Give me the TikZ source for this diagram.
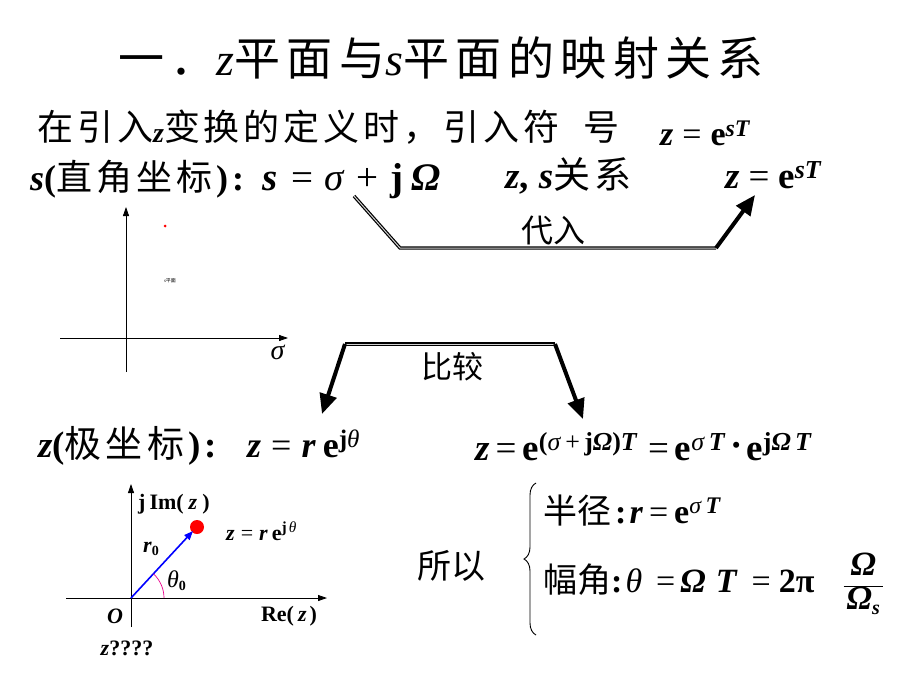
\documentclass[tikz,border=0pt]{standalone}
\usepackage{fontspec}
\setmainfont{Liberation Serif}
\newfontfamily\cjk[LetterSpace=11]{Noto Sans CJK SC}
\newfontfamily\cjkt[LetterSpace=14]{Noto Sans CJK SC}
\newfontfamily\cjkn{Noto Sans CJK SC}
\usetikzlibrary{arrows.meta,decorations.pathreplacing}
\newcommand\fs[1]{\fontsize{#1}{#1}\selectfont}
\newcommand\bi[1]{\textbf{\textit{#1}}}
\newcommand\sups[1]{\textsuperscript{#1}}
\newcommand\gap[1]{\hspace{#1pt}}
\begin{document}
\begin{tikzpicture}[x=1pt,y=-1pt,
  txt/.style={inner sep=0pt, anchor=base west},
  ctxt/.style={inner sep=0pt, anchor=center},
  dbl/.style={draw=black, line width=1.2pt, double=gray!35, double distance=1pt, line join=miter},
  bigarrow/.style={line width=4pt, -{Triangle[length=20pt,width=17pt]}},
  axis/.style={line width=0.8pt, -{Triangle[length=9pt,width=6pt]}}]
\fill[white] (0,0) rectangle (920,690);
\useasboundingbox (0,0) rectangle (920,690);

% title
\node[txt] (title) at (118,76) {\fs{46}{\cjkt 一．}\textit{z}{\cjkt 平面与}\textit{s}{\cjkt 平面的映射关系}};

% line 2
\node[txt] (intro) at (37,140) {\fs{36}{\cjk 在引入}\raisebox{-2pt}{\fs{28}\bi{z}}{\cjk 变换的定义时，引入符}\gap{24}{\cjk 号}};
\node[txt] (def) at (660,146) {\fs{34}\bi{z}\gap{9}=\gap{9}\textbf{e}\sups{\bi{sT}}};

% line 3
\node[txt] (slabel) at (30,190) {\fs{36}\bi{s}\textbf{(}{\cjk 直角坐标}\textbf{)}\gap{4}\textbf{:}};
\node[txt] (seq) at (262,190) {\fs{39}\bi{s}\gap{14}=\gap{11}\textit{σ}\gap{12}+\gap{12}\textbf{j}\gap{8}\bi{Ω}};
\node[txt] (zs) at (505,188) {\fs{37}\bi{z}\textbf{,}\gap{10}\bi{s}{\cjk 关系}};
\node[txt] (zdef) at (725,188) {\fs{37}\bi{z}\gap{9}=\gap{9}\textbf{e}\sups{\bi{sT}}};

% substitution path
\coordinate (a1) at (354,196);
\coordinate (a2) at (400,248);
\coordinate (a3) at (716,248);
\coordinate (a4) at (755,195);
\draw[dbl] (a1) -- (a2) -- (a3);
\draw[bigarrow] (a3) -- (a4);
\node[ctxt] (subst) at (553,231) {\fs{32}\cjkn 代入};

% s-plane
\coordinate (sv0) at (126,372);
\coordinate (sv1) at (126,207);
\coordinate (sh0) at (60,338);
\coordinate (sh1) at (288,338);
\draw[axis] (sv0) -- (sv1);
\draw[axis] (sh0) -- (sh1);
\node[ctxt] (sigma) at (278,352) {\fs{28}\textit{σ}};
\fill[red] (165,226) circle (1.5);
\node[ctxt] (splane) at (170,281) {\fs{5}\textit{s}{\cjkn 平面}};

% compare path
\coordinate (b1) at (345,344);
\coordinate (b2) at (555,344);
\coordinate (b3) at (322,414);
\coordinate (b4) at (583,419);
\draw[dbl] (b1) -- (b2);
\draw[bigarrow] (b1) -- (b3);
\draw[bigarrow] (b2) -- (b4);
\node[ctxt] (comp) at (452,367) {\fs{31}\cjkn 比较};

% line 4
\node[txt] (zlabel) at (38,457) {\fs{37}\bi{z}\textbf{(}{\cjk 极坐标}\textbf{)}\gap{4}\textbf{:}};
\node[txt] (zpol) at (247,457) {\fs{36}\bi{z}\gap{10}=\gap{10}\bi{r}\gap{7}\textbf{e}\sups{\textbf{j}\textit{θ}}};
\node[txt] (zexp) at (475,460) {\fs{37}\bi{z}\gap{6}=\gap{6}\textbf{e}\sups{\textbf{(}\textit{σ}\,+\,\textbf{j}\bi{Ω}\textbf{)}\bi{T}}\gap{10}=\gap{6}\textbf{e}\sups{\textit{σ}\gap{4}\bi{T}}\gap{4}\raisebox{3pt}{\textbf{·}}\gap{4}\textbf{e}\sups{\textbf{j}\bi{Ω}\,\bi{T}}};

% z-plane
\coordinate (O) at (131,598);
\coordinate (zv0) at (131,627);
\coordinate (zv1) at (131,484);
\coordinate (zh0) at (66,598);
\coordinate (zh1) at (327,598);
\draw[axis] (zv0) -- (zv1);
\draw[axis] (zh0) -- (zh1);
\fill[red] (197,527) circle (7);
\coordinate (P) at (193,531);
\draw[blue, line width=1.6pt, -{Triangle[length=9pt,width=7pt]}] (O) -- (P);
\draw[magenta, line width=0.7pt] (O) ++(33pt,0pt) arc[start angle=0, end angle=47, radius=33pt];
\node[txt] (imz) at (138,509) {\fs{22}\textbf{j}\gap{4}\textbf{Im(}\gap{5}\bi{z}\gap{5}\textbf{)}};
\node[txt] (zpt) at (226,540) {\fs{22}\bi{z}\gap{6}=\gap{6}\bi{r}\gap{4}\textbf{e}\sups{\textbf{j}\gap{2}\textit{θ}}};
\node[txt] (r0) at (143,552) {\fs{22}\bi{r}\raisebox{-3pt}{\fs{14}\textbf{0}}};
\node[txt] (th0) at (167,587) {\fs{24}\textit{θ}\raisebox{-3pt}{\fs{14}\textbf{0}}};
\node[ctxt] (Olab) at (115,616) {\fs{22}\bi{O}};
\node[ctxt] (Re) at (289,616) {\fs{22}\textbf{Re(}\gap{4}\bi{z}\gap{3}\textbf{)}};
\node[ctxt] (zq) at (127,648) {\fs{22}\bi{z}\textbf{????}};

% conclusion
\node[ctxt] (so) at (451,566) {\fs{34}\cjkn 所以};
\coordinate (br0) at (536,635);
\coordinate (br1) at (536,483);
\draw[line width=0.9pt, decorate, decoration={brace, amplitude=12pt}] (br0) -- (br1);
\node[txt] (radius) at (543,523) {\fs{34}{\cjkn 半径}\gap{4}\textbf{:}\gap{3}\bi{r}\gap{6}=\gap{6}\textbf{e}\sups{\textit{σ}\,\bi{T}}};
\node[txt] (angle) at (543,592) {\fs{34}{\cjkn 幅角}\textbf{:}\gap{3}\textit{θ}\gap{14}=\gap{5}\bi{Ω}\gap{10}\bi{T}\gap{14}=\gap{8}\textbf{2π}\gap{28}$\displaystyle\frac{\gap{3}\mbox{\bi{Ω}}\gap{3}}{\gap{3}\mbox{\bi{Ω}\raisebox{-5pt}{\fs{20}\bi{s}}}\gap{3}}$};
\end{tikzpicture}
\end{document}
